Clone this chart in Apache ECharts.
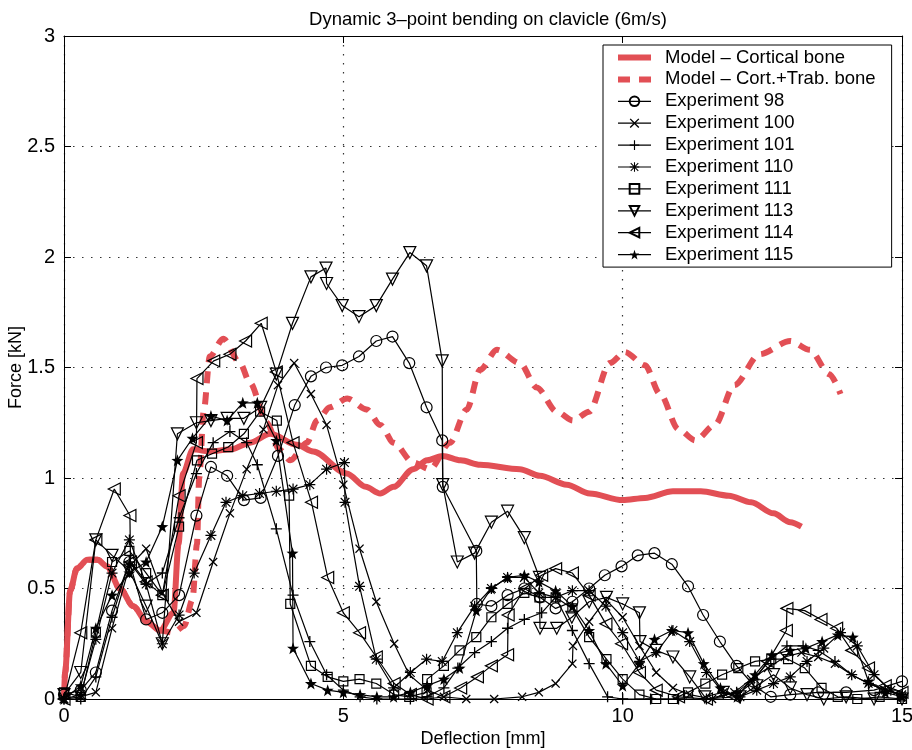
<!DOCTYPE html>
<html>
<head>
<meta charset="utf-8">
<script src="https://cdn.jsdelivr.net/npm/echarts@6/dist/echarts.min.js"></script>
<style>
  html, body { margin: 0; padding: 0; background: #fff; }
  #chart { width: 912px; height: 750px; }
</style>
</head>
<body>
<div id="chart"></div>
<script>
const FONT = '"Liberation Sans", Arial, Helvetica, sans-serif';
const RED = '#e24f55';

const titleText = 'Dynamic 3–point bending on clavicle (6m/s)';
const xAxisName = 'Deflection [mm]';
const yAxisName = 'Force [kN]';
const xTicks = [0, 5, 10, 15];
const yTicks = [0, 0.5, 1, 1.5, 2, 2.5, 3];

const seriesNames = [
  'Model – Cortical bone',
  'Model – Cort.+Trab. bone',
  'Experiment 98',
  'Experiment 100',
  'Experiment 101',
  'Experiment 110',
  'Experiment 111',
  'Experiment 113',
  'Experiment 114',
  'Experiment 115'
];

// Finite element model responses [deflection mm, force kN]
const modelCortical = [[0,0],[0.02,0.12],[0.11,0.49],[0.23,0.59],[0.42,0.63],[0.6,0.63],[0.77,0.6],[1.0,0.5],[1.24,0.42],[1.48,0.35],[1.72,0.31],[1.96,0.39],[2.05,0.7],[2.13,1.02],[2.31,1.13],[2.6,1.12],[3.0,1.13],[3.33,1.16],[3.69,1.2],[4.17,1.15],[4.46,1.12],[5.06,1.02],[5.4,0.96],[5.66,0.93],[5.9,0.96],[6.25,1.04],[6.5,1.08],[6.78,1.1],[7.1,1.08],[7.45,1.06],[8.16,1.04],[8.52,1.01],[9.0,0.97],[9.41,0.93],[10.0,0.9],[10.4,0.91],[10.9,0.94],[11.4,0.94],[11.9,0.92],[12.3,0.89],[12.7,0.84],[13.0,0.8],[13.2,0.78]];
const modelCortTrab = [[0,0],[0.02,0.12],[0.11,0.49],[0.23,0.59],[0.42,0.63],[0.6,0.63],[0.77,0.6],[1.0,0.5],[1.24,0.42],[1.48,0.35],[1.72,0.31],[1.96,0.3],[2.15,0.33],[2.3,0.45],[2.38,0.7],[2.42,1.0],[2.5,1.3],[2.61,1.55],[2.85,1.63],[3.15,1.52],[3.33,1.43],[3.63,1.25],[3.85,1.13],[4.05,1.08],[4.35,1.16],[4.53,1.26],[4.76,1.32],[5.07,1.36],[5.42,1.31],[5.66,1.24],[5.9,1.16],[6.25,1.07],[6.55,1.04],[6.91,1.16],[7.21,1.31],[7.45,1.49],[7.75,1.58],[8.16,1.52],[8.46,1.41],[8.82,1.3],[9.11,1.26],[9.4,1.3],[9.77,1.52],[10.04,1.57],[10.4,1.51],[10.67,1.38],[11.0,1.22],[11.3,1.17],[11.65,1.24],[12.0,1.42],[12.45,1.56],[13.0,1.62],[13.35,1.58],[13.7,1.47],[13.9,1.38]];

// Measured specimens [deflection mm, force kN]
const exp98 = [[0,0.02],[0.3,0.04],[0.57,0.12],[0.86,0.4],[1.17,0.62],[1.47,0.36],[1.76,0.39],[2.06,0.47],[2.37,0.83],[2.63,1.05],[2.92,1.01],[3.22,0.9],[3.52,0.91],[3.83,1.1],[4.13,1.33],[4.42,1.46],[4.69,1.5],[4.98,1.51],[5.28,1.55],[5.59,1.62],[5.88,1.64],[6.18,1.52],[6.49,1.32],[6.77,1.17],[6.78,0.96],[7.38,0.67],[7.39,0.43],[7.65,0.42],[7.94,0.47],[8.24,0.5],[8.52,0.46],[8.8,0.41],[9.1,0.44],[9.4,0.5],[9.68,0.56],[9.98,0.6],[10.27,0.65],[10.57,0.66],[10.88,0.61],[11.17,0.51],[11.44,0.38],[11.74,0.26],[12.04,0.15],[12.35,0.06],[12.65,0.01],[13.0,0.02],[13.5,0.03],[14.0,0.03],[14.5,0.04],[15.0,0.08]];
const exp100 = [[0,0.0],[0.3,0.01],[0.57,0.03],[0.86,0.32],[1.17,0.6],[1.47,0.68],[1.76,0.48],[2.06,0.35],[2.37,0.39],[2.67,0.62],[2.97,0.84],[3.27,1.04],[3.57,1.22],[3.83,1.42],[4.12,1.52],[4.42,1.38],[4.7,1.24],[5.0,0.97],[5.29,0.68],[5.59,0.44],[5.91,0.25],[6.18,0.11],[6.5,0.04],[6.8,0.01],[7.2,0.0],[7.7,0.0],[8.2,0.01],[8.5,0.03],[8.8,0.07],[9.1,0.16],[9.11,0.24],[9.4,0.35],[9.7,0.45],[10.0,0.37],[10.3,0.24],[10.6,0.12],[10.9,0.05],[11.2,0.02],[11.6,0.0],[12.0,0.03],[12.3,0.09],[12.6,0.14],[12.9,0.19],[13.2,0.21],[13.5,0.19],[13.8,0.16],[14.1,0.11],[14.4,0.07],[14.7,0.04],[15.0,0.02]];
const exp101 = [[0,0.0],[0.3,0.0],[0.57,0.1],[0.86,0.37],[1.17,0.62],[1.47,0.52],[1.76,0.57],[2.06,0.82],[2.37,1.02],[2.67,1.16],[2.97,1.21],[3.27,1.16],[3.46,1.06],[3.8,0.77],[4.1,0.47],[4.4,0.26],[4.7,0.11],[5.0,0.04],[5.3,0.01],[5.6,0.0],[6.2,0.0],[6.5,0.01],[6.8,0.05],[7.05,0.14],[7.35,0.21],[7.65,0.26],[7.94,0.32],[8.24,0.36],[8.55,0.39],[8.8,0.46],[9.1,0.31],[9.4,0.16],[9.73,0.01],[10.0,0.0],[10.5,0.0],[11.0,0.0],[11.5,0.0],[12.04,0.03],[12.35,0.09],[12.65,0.18],[12.94,0.24],[13.23,0.24],[13.5,0.22],[13.8,0.17],[14.1,0.11],[14.4,0.07],[14.7,0.04],[15.0,0.02]];
const exp110 = [[0,0.0],[0.3,0.02],[0.57,0.27],[0.86,0.57],[1.17,0.72],[1.47,0.52],[1.76,0.25],[2.06,0.38],[2.33,0.57],[2.63,0.74],[2.9,0.89],[3.2,0.92],[3.5,0.93],[3.8,0.94],[4.1,0.95],[4.4,0.97],[4.7,1.04],[5.02,1.07],[5.03,0.89],[5.29,0.51],[5.59,0.18],[5.9,0.05],[6.2,0.12],[6.49,0.18],[6.77,0.17],[7.04,0.3],[7.35,0.42],[7.65,0.5],[7.94,0.55],[8.24,0.55],[8.5,0.48],[8.8,0.46],[9.1,0.49],[9.4,0.49],[9.7,0.42],[10.0,0.3],[10.3,0.17],[10.6,0.21],[10.9,0.31],[11.2,0.26],[11.5,0.12],[11.8,0.03],[12.1,0.01],[12.4,0.04],[12.7,0.07],[13.0,0.1],[13.3,0.17],[13.6,0.23],[13.9,0.3],[14.2,0.24],[14.5,0.11],[14.8,0.04],[15.0,0.01]];
const exp111 = [[0,0.03],[0.3,0.01],[0.57,0.3],[0.86,0.62],[1.17,0.67],[1.47,0.57],[1.76,0.47],[2.06,0.78],[2.38,1.08],[2.65,1.11],[2.94,1.14],[3.22,1.2],[3.51,1.3],[3.81,1.26],[4.03,0.92],[4.05,0.43],[4.42,0.15],[4.72,0.1],[5.0,0.08],[5.29,0.09],[5.59,0.07],[5.91,0.02],[6.18,0.01],[6.49,0.03],[6.5,0.09],[6.8,0.15],[7.08,0.22],[7.38,0.28],[7.65,0.37],[7.94,0.43],[8.24,0.48],[8.51,0.46],[8.8,0.46],[9.1,0.41],[9.4,0.28],[9.71,0.18],[10.0,0.09],[10.3,0.02],[10.6,0.0],[10.9,0.0],[11.17,0.03],[11.48,0.07],[11.78,0.11],[12.07,0.14],[12.37,0.17],[12.66,0.18],[12.96,0.18],[13.26,0.14],[13.56,0.05],[13.85,0.01],[14.2,0.0],[14.6,0.01],[15.0,0.0]];
const exp113 = [[0,0.02],[0.3,0.12],[0.57,0.72],[0.86,0.65],[1.17,0.58],[1.47,0.42],[1.76,0.25],[2.03,1.2],[2.37,1.25],[2.63,1.26],[2.92,1.27],[3.22,1.27],[3.52,1.32],[3.8,1.47],[4.09,1.7],[4.42,1.91],[4.69,1.95],[4.7,1.88],[4.98,1.78],[5.28,1.73],[5.59,1.78],[5.88,1.9],[6.19,2.02],[6.49,1.96],[6.77,1.53],[6.78,0.97],[7.04,0.62],[7.35,0.66],[7.65,0.8],[7.94,0.85],[8.24,0.73],[8.51,0.55],[8.52,0.32],[8.82,0.32],[9.09,0.37],[9.4,0.44],[9.71,0.46],[10.0,0.43],[10.3,0.39],[10.31,0.26],[10.6,0.22],[10.9,0.19],[11.2,0.1],[11.47,0.01],[11.8,0.03],[12.1,0.01],[12.4,0.06],[12.7,0.11],[13.0,0.05],[13.3,0.02],[13.6,0.0],[14.0,0.01],[14.5,0.0],[15.0,0.0]];
const exp114 = [[0,0.0],[0.3,0.3],[0.57,0.72],[0.9,0.95],[1.18,0.83],[1.19,0.62],[1.47,0.53],[1.76,0.47],[2.06,0.92],[2.37,1.16],[2.38,1.45],[2.68,1.53],[2.97,1.56],[3.25,1.62],[3.53,1.7],[3.8,1.48],[4.1,1.16],[4.43,0.89],[4.72,0.55],[5.0,0.39],[5.29,0.3],[5.59,0.19],[5.91,0.07],[6.2,0.02],[6.5,0.0],[6.8,0.01],[7.1,0.05],[7.4,0.1],[7.65,0.15],[7.94,0.2],[7.95,0.38],[8.25,0.5],[8.55,0.56],[8.8,0.59],[9.1,0.57],[9.4,0.47],[9.7,0.34],[9.98,0.25],[10.3,0.12],[10.6,0.04],[11.0,0.01],[11.5,0.0],[12.0,0.01],[12.3,0.07],[12.6,0.17],[12.93,0.31],[12.94,0.41],[13.26,0.4],[13.55,0.36],[13.83,0.32],[14.1,0.22],[14.4,0.14],[14.7,0.06],[15.0,0.03]];
const exp115 = [[0,0.0],[0.3,0.06],[0.57,0.32],[0.86,0.47],[1.17,0.57],[1.47,0.62],[1.76,0.78],[2.03,1.08],[2.3,1.18],[2.63,1.28],[2.92,1.26],[3.2,1.34],[3.46,1.34],[3.8,1.17],[4.09,0.66],[4.1,0.23],[4.42,0.07],[4.72,0.04],[5.0,0.03],[5.3,0.02],[5.6,0.01],[5.9,0.01],[6.2,0.03],[6.5,0.06],[6.8,0.09],[7.08,0.14],[7.38,0.4],[7.65,0.5],[7.94,0.55],[8.24,0.56],[8.5,0.53],[8.8,0.49],[9.1,0.42],[9.4,0.31],[9.7,0.16],[10.0,0.06],[10.3,0.16],[10.57,0.27],[10.88,0.31],[11.17,0.3],[11.45,0.16],[11.75,0.05],[12.05,0.01],[12.37,0.11],[12.67,0.2],[13.0,0.22],[13.28,0.23],[13.57,0.26],[13.85,0.29],[14.12,0.28],[14.4,0.08],[14.7,0.03],[15.0,0.01]];

// Marker shapes (drawn as filled or outlined paths)
const SYM_X = 'path://M0,1L1,0L5,4L9,0L10,1L6,5L10,9L9,10L5,6L1,10L0,9L4,5Z';
const SYM_PLUS = 'path://M4.4,0H5.6V4.4H10V5.6H5.6V10H4.4V5.6H0V4.4H4.4Z';
const SYM_AST = 'path://M4.45,0H5.55V10H4.45Z M0,4.45H10V5.55H0Z M0.7,1.45L1.45,0.7L9.3,8.55L8.55,9.3Z M8.55,0.7L9.3,1.45L1.45,9.3L0.7,8.55Z';
const SYM_STAR = 'path://M5,0L6.18,3.38L9.76,3.45L6.9,5.62L7.94,9.05L5,7L2.06,9.05L3.1,5.62L0.24,3.45L3.82,3.38Z';
const SYM_TRI_DOWN = 'path://M0,0L10,0L5,9Z';
const SYM_TRI_LEFT = 'path://M0,5L9,0L9,10Z';

function modelSeries(name, data, dashed) {
  return {
    type: 'line', name, data, symbol: 'none', z: 1, clip: false,
    smooth: 0.3, smoothMonotone: 'x',
    lineStyle: { color: RED, width: 6, type: dashed ? [12, 9] : 'solid', cap: 'butt', join: 'round' },
    itemStyle: { color: 'rgba(0,0,0,0)', borderColor: 'rgba(0,0,0,0)', borderWidth: 0 },
    emphasis: { disabled: true }, silent: true
  };
}

function expSeries(name, data, symbol, size, hollow) {
  return {
    type: 'line', name, data, symbol, symbolSize: size, showSymbol: true, z: 3, clip: false,
    lineStyle: { color: '#000', width: 1.2 },
    itemStyle: hollow
      ? { color: 'rgba(0,0,0,0)', borderColor: '#000', borderWidth: 1.2 }
      : { color: '#000', borderColor: '#000', borderWidth: 0 },
    emphasis: { disabled: true }, silent: true
  };
}

const axisText = { fontFamily: FONT, fontSize: 18, color: '#000' };
const tickText = { fontFamily: FONT, fontSize: 20, color: '#000' };

const chart = echarts.init(document.getElementById('chart'), null, { renderer: 'canvas' });
chart.setOption({
  animation: false,
  backgroundColor: '#fff',
  title: {
    text: titleText, left: 483, top: 5, textAlign: 'center',
    textStyle: { fontFamily: FONT, fontSize: 18.5, fontWeight: 'normal', color: '#000' }
  },
  grid: { left: 64, right: 10, top: 36, bottom: 51, containLabel: false, outerBoundsMode: 'none' },
  legend: {
    orient: 'vertical', left: 603, top: 45,
    padding: [3, 16, 3, 12], itemGap: 2.9, itemWidth: 33, itemHeight: 12,
    backgroundColor: '#fff', borderColor: '#000', borderWidth: 1,
    lineStyle: { width: 'inherit' },
    textStyle: { fontFamily: FONT, fontSize: 18.5, color: '#000', lineHeight: 18, padding: [0, 0, 0, 9] },
    selectedMode: false,
    data: seriesNames
  },
  xAxis: [
    {
      type: 'value', min: xTicks[0], max: xTicks[xTicks.length - 1], interval: xTicks[1] - xTicks[0],
      position: 'bottom',
      name: xAxisName, nameLocation: 'middle', nameGap: 31, nameMoveOverlap: false, nameTextStyle: axisText,
      axisLine: { show: true, onZero: false, lineStyle: { color: '#000', width: 1 } },
      axisTick: { show: true, inside: true, length: 7, lineStyle: { color: '#000' } },
      axisLabel: Object.assign({ margin: 7 }, tickText),
      splitLine: { show: true, lineStyle: { color: '#333', width: 1.2, type: [1.5, 7.5] } }
    },
    {
      type: 'value', min: xTicks[0], max: xTicks[xTicks.length - 1], interval: xTicks[1] - xTicks[0],
      position: 'top',
      axisLine: { show: true, onZero: false, lineStyle: { color: '#000', width: 1 } },
      axisTick: { show: true, inside: true, length: 7, lineStyle: { color: '#000' } },
      axisLabel: { show: false }, splitLine: { show: false }
    }
  ],
  yAxis: [
    {
      type: 'value', min: yTicks[0], max: yTicks[yTicks.length - 1], interval: yTicks[1] - yTicks[0],
      position: 'left',
      name: yAxisName, nameLocation: 'middle', nameGap: 39, nameMoveOverlap: false, nameRotate: 90, nameTextStyle: axisText,
      axisLine: { show: true, onZero: false, lineStyle: { color: '#000', width: 1 } },
      axisTick: { show: true, inside: true, length: 7, lineStyle: { color: '#000' } },
      axisLabel: Object.assign({ margin: 9 }, tickText),
      splitLine: { show: true, lineStyle: { color: '#333', width: 1.2, type: [1.5, 7.5] } }
    },
    {
      type: 'value', min: yTicks[0], max: yTicks[yTicks.length - 1], interval: yTicks[1] - yTicks[0],
      position: 'right',
      axisLine: { show: true, onZero: false, lineStyle: { color: '#000', width: 1 } },
      axisTick: { show: true, inside: true, length: 7, lineStyle: { color: '#000' } },
      axisLabel: { show: false }, splitLine: { show: false }
    }
  ],
  series: [
    modelSeries(seriesNames[0], modelCortical, false),
    modelSeries(seriesNames[1], modelCortTrab, true),
    expSeries(seriesNames[2], exp98, 'circle', 11, true),
    expSeries(seriesNames[3], exp100, SYM_X, 9, false),
    expSeries(seriesNames[4], exp101, SYM_PLUS, 11, false),
    expSeries(seriesNames[5], exp110, SYM_AST, 11, false),
    expSeries(seriesNames[6], exp111, 'rect', 9, true),
    expSeries(seriesNames[7], exp113, SYM_TRI_DOWN, 12, true),
    expSeries(seriesNames[8], exp114, SYM_TRI_LEFT, 12, true),
    expSeries(seriesNames[9], exp115, SYM_STAR, 12, false)
  ]
});
</script>
</body>
</html>
